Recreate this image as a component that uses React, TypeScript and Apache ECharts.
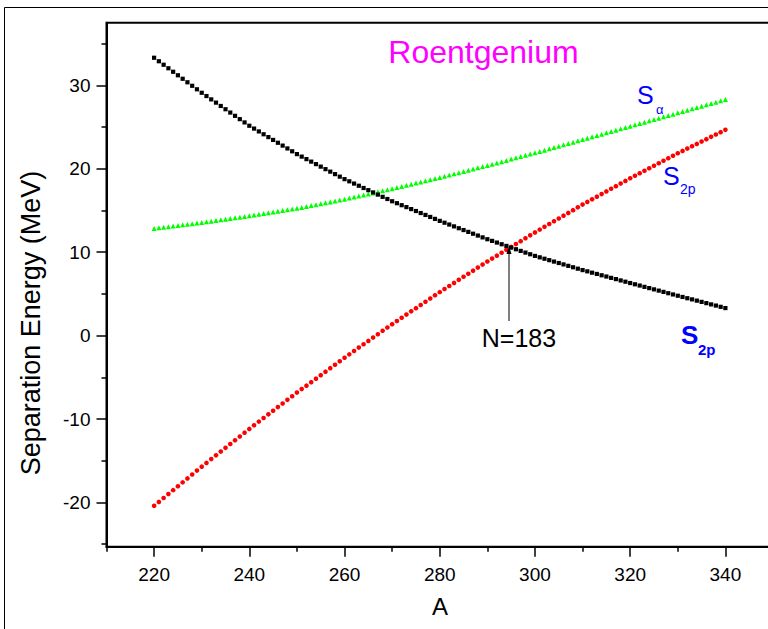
import React, { useEffect, useRef } from "react";
import * as echarts from "echarts";

// Mass number A runs in unit steps from A_START
const A_START = 220;

// Black squares, A = 220 ... 340
const S_BLACK = [
  33.30, 32.88, 32.46, 32.04, 31.62, 31.20, 30.78, 30.36, 29.94, 29.52, 29.10,
  28.71, 28.31, 27.92, 27.52, 27.13, 26.73, 26.34, 25.94, 25.55, 25.15,
  24.81, 24.47, 24.13, 23.79, 23.45, 23.11, 22.77, 22.43, 22.09, 21.75,
  21.45, 21.15, 20.85, 20.55, 20.25, 19.95, 19.65, 19.35, 19.05, 18.75,
  18.49, 18.22, 17.96, 17.69, 17.43, 17.16, 16.90, 16.63, 16.37, 16.10,
  15.87, 15.63, 15.40, 15.16, 14.93, 14.69, 14.46, 14.22, 13.99, 13.75,
  13.53, 13.31, 13.09, 12.87, 12.65, 12.43, 12.21, 11.99, 11.77, 11.55,
  11.35, 11.15, 10.95, 10.75, 10.55, 10.35, 10.15, 9.95, 9.75, 9.55,
  9.38, 9.21, 9.04, 8.87, 8.70, 8.53, 8.36, 8.19, 8.02, 7.85,
  7.70, 7.54, 7.39, 7.23, 7.08, 6.92, 6.77, 6.61, 6.46, 6.30,
  6.15, 6.00, 5.84, 5.69, 5.54, 5.39, 5.24, 5.08, 4.93, 4.78,
  4.63, 4.48, 4.34, 4.19, 4.04, 3.89, 3.74, 3.60, 3.45, 3.30,
];

// Red circles (S_2p), A = 220 ... 340
const S_2P = [
  -20.40, -19.93, -19.46, -18.99, -18.52, -18.05, -17.59, -17.12, -16.65, -16.18, -15.71,
  -15.26, -14.80, -14.35, -13.90, -13.45, -12.99, -12.54, -12.09, -11.63, -11.18,
  -10.75, -10.31, -9.88, -9.44, -9.01, -8.57, -8.14, -7.70, -7.27, -6.83,
  -6.41, -6.00, -5.58, -5.16, -4.74, -4.32, -3.90, -3.49, -3.07, -2.65,
  -2.25, -1.85, -1.44, -1.04, -0.64, -0.24, 0.16, 0.57, 0.97, 1.37,
  1.75, 2.14, 2.52, 2.91, 3.29, 3.67, 4.06, 4.44, 4.83, 5.21,
  5.58, 5.94, 6.31, 6.68, 7.05, 7.41, 7.78, 8.15, 8.51, 8.88,
  9.23, 9.58, 9.93, 10.28, 10.63, 10.97, 11.32, 11.67, 12.02, 12.37,
  12.70, 13.04, 13.37, 13.70, 14.04, 14.37, 14.70, 15.03, 15.37, 15.70,
  16.02, 16.33, 16.65, 16.96, 17.28, 17.60, 17.91, 18.23, 18.54, 18.86,
  19.16, 19.46, 19.76, 20.06, 20.36, 20.65, 20.95, 21.25, 21.55, 21.85,
  22.13, 22.41, 22.69, 22.97, 23.25, 23.54, 23.82, 24.10, 24.38, 24.66,
];

// Green triangles (S_alpha), A = 220 ... 340
const S_ALPHA = [
  12.85, 12.92, 12.99, 13.06, 13.13, 13.20, 13.27, 13.34, 13.41, 13.48, 13.55,
  13.63, 13.71, 13.79, 13.87, 13.95, 14.03, 14.11, 14.19, 14.27, 14.35,
  14.44, 14.53, 14.62, 14.71, 14.80, 14.89, 14.98, 15.07, 15.16, 15.25,
  15.36, 15.47, 15.58, 15.69, 15.80, 15.91, 16.02, 16.13, 16.24, 16.35,
  16.48, 16.60, 16.73, 16.85, 16.98, 17.10, 17.23, 17.35, 17.48, 17.60,
  17.74, 17.87, 18.01, 18.14, 18.28, 18.41, 18.55, 18.68, 18.82, 18.95,
  19.10, 19.24, 19.39, 19.53, 19.68, 19.82, 19.97, 20.11, 20.26, 20.40,
  20.55, 20.70, 20.85, 21.00, 21.15, 21.30, 21.45, 21.60, 21.75, 21.90,
  22.06, 22.22, 22.38, 22.54, 22.70, 22.86, 23.02, 23.18, 23.34, 23.50,
  23.66, 23.82, 23.98, 24.14, 24.30, 24.46, 24.62, 24.78, 24.94, 25.10,
  25.26, 25.42, 25.58, 25.74, 25.90, 26.06, 26.22, 26.38, 26.54, 26.70,
  26.86, 27.02, 27.18, 27.34, 27.50, 27.66, 27.82, 27.98, 28.14, 28.30,
];

const X_MAJOR = [220, 240, 260, 280, 300, 320, 340];
const X_MINOR = [210, 230, 250, 270, 290, 310, 330, 350];
const Y_MAJOR = [-20, -10, 0, 10, 20, 30];
const Y_MINOR = [-25, -15, -5, 5, 15, 25, 35];

const X_MIN = 210;
const X_MAX = 350;
const Y_MIN = -25.3;
const Y_MAX = 37.5;

const FONT = '"Liberation Sans", Arial, Helvetica, sans-serif';

const toPoints = (vals: number[]) => vals.map((v, i) => [A_START + i, v]);

export default function App() {
  const ref = useRef<HTMLDivElement>(null);

  useEffect(() => {
    if (!ref.current) return;
    const chart = echarts.init(ref.current, undefined, { renderer: "svg" });

    const axisCommon = {
      type: "value" as const,
      splitLine: { show: false },
      gridIndex: 0,
    };

    const option: any = {
      animation: false,
      backgroundColor: "#ffffff",
      grid: {
        left: 106.5,
        top: 22.7,
        width: 666.5,
        height: 524,
        show: true,
        borderColor: "#000",
        borderWidth: 2,
        backgroundColor: "transparent",
      },
      xAxis: [
        {
          ...axisCommon,
          min: X_MIN,
          max: X_MAX,
          position: "bottom",
          axisLine: { show: true, onZero: false, lineStyle: { color: "#000", width: 2 } },
          axisTick: { show: true, customValues: X_MAJOR, length: 10, lineStyle: { color: "#000", width: 1.5 } },
          axisLabel: { show: true, customValues: X_MAJOR, fontSize: 19, color: "#000", fontFamily: FONT, margin: 18 },
        },
        {
          ...axisCommon,
          min: X_MIN,
          max: X_MAX,
          position: "bottom",
          axisLine: { show: false, onZero: false },
          axisTick: { show: true, customValues: X_MINOR, length: 5, lineStyle: { color: "#000", width: 1.5 } },
          axisLabel: { show: false },
        },
      ],
      yAxis: [
        {
          ...axisCommon,
          min: Y_MIN,
          max: Y_MAX,
          position: "left",
          axisLine: { show: true, onZero: false, lineStyle: { color: "#000", width: 2 } },
          axisTick: { show: true, customValues: Y_MAJOR, length: 10, lineStyle: { color: "#000", width: 1.5 } },
          axisLabel: { show: true, customValues: Y_MAJOR, fontSize: 19, color: "#000", fontFamily: FONT, margin: 16 },
        },
        {
          ...axisCommon,
          min: Y_MIN,
          max: Y_MAX,
          position: "left",
          offset: 0,
          axisLine: { show: false, onZero: false },
          axisTick: { show: true, customValues: Y_MINOR, length: 5, lineStyle: { color: "#000", width: 1.5 } },
          axisLabel: { show: false },
        },
      ],
      series: [
        {
          name: "S_alpha",
          type: "scatter",
          xAxisIndex: 0,
          yAxisIndex: 0,
          symbol: "triangle",
          symbolSize: 5,
          itemStyle: { color: "#00ff00", opacity: 1 },
          data: toPoints(S_ALPHA),
          z: 2,
        },
        {
          name: "S_2p",
          type: "scatter",
          xAxisIndex: 0,
          yAxisIndex: 0,
          symbol: "circle",
          symbolSize: 4.6,
          itemStyle: { color: "#ff0000", opacity: 1 },
          data: toPoints(S_2P),
          z: 3,
        },
        {
          name: "S_black",
          type: "scatter",
          xAxisIndex: 0,
          yAxisIndex: 0,
          symbol: "rect",
          symbolSize: 4.2,
          itemStyle: { color: "#000000", opacity: 1 },
          data: toPoints(S_BLACK),
          z: 4,
        },
      ],
      graphic: [
        {
          type: "rect",
          shape: { x: 4.5, y: 7.5, width: 2000, height: 2000 },
          style: { fill: "none", stroke: "#000", lineWidth: 1 },
          z: 0,
          silent: true,
        },
        {
          type: "text",
          x: 483.5,
          y: 51.5,
          style: { text: "Roentgenium", fontSize: 32, fontFamily: FONT, fill: "#ff00ff", align: "center", verticalAlign: "middle" },
          z: 100,
        },
        {
          type: "text",
          x: 31,
          y: 323,
          rotation: Math.PI / 2,
          style: { text: "Separation Energy (MeV)", fontSize: 27, fontFamily: FONT, fill: "#000", align: "center", verticalAlign: "middle" },
          z: 100,
        },
        {
          type: "text",
          x: 440,
          y: 606.5,
          style: { text: "A", fontSize: 24, fontFamily: FONT, fill: "#000", align: "center", verticalAlign: "middle" },
          z: 100,
        },
        // S_alpha label
        {
          type: "text",
          x: 637,
          y: 95,
          style: { text: "S", fontSize: 25, fontFamily: FONT, fill: "#0000ff", align: "left", verticalAlign: "middle" },
          z: 100,
        },
        {
          type: "text",
          x: 656,
          y: 109,
          style: { text: "\u03b1", fontSize: 13, fontFamily: FONT, fill: "#0000ff", align: "left", verticalAlign: "middle" },
          z: 100,
        },
        // S_2p label (middle)
        {
          type: "text",
          x: 663,
          y: 176,
          style: { text: "S", fontSize: 25, fontFamily: FONT, fill: "#0000ff", align: "left", verticalAlign: "middle" },
          z: 100,
        },
        {
          type: "text",
          x: 680,
          y: 189,
          style: { text: "2p", fontSize: 14, fontFamily: FONT, fill: "#0000ff", align: "left", verticalAlign: "middle" },
          z: 100,
        },
        // S_2p label (bold, bottom)
        {
          type: "text",
          x: 681,
          y: 335,
          style: { text: "S", fontSize: 26, fontWeight: "bold", fontFamily: FONT, fill: "#0000ff", align: "left", verticalAlign: "middle" },
          z: 100,
        },
        {
          type: "text",
          x: 698,
          y: 349,
          style: { text: "2p", fontSize: 15, fontWeight: "bold", fontFamily: FONT, fill: "#0000ff", align: "left", verticalAlign: "middle" },
          z: 100,
        },
        // N=183 annotation
        {
          type: "text",
          x: 519,
          y: 338,
          style: { text: "N=183", fontSize: 25, fontFamily: FONT, fill: "#000", align: "center", verticalAlign: "middle" },
          z: 100,
        },
        {
          type: "line",
          shape: { x1: 509, y1: 321, x2: 509, y2: 252 },
          style: { stroke: "#000", lineWidth: 1 },
          z: 100,
        },
        {
          type: "polygon",
          shape: { points: [[509, 246], [506.5, 254], [511.5, 254]] },
          style: { fill: "#000" },
          z: 100,
        },
      ],
    };

    chart.setOption(option);
    return () => {
      chart.dispose();
    };
  }, []);

  return (
    <div
      style={{
        position: "fixed",
        left: 0,
        top: 0,
        width: 768,
        height: 629,
        overflow: "hidden",
        background: "#fff",
      }}
    >
      <div ref={ref} style={{ width: 800, height: 660 }} />
    </div>
  );
}
